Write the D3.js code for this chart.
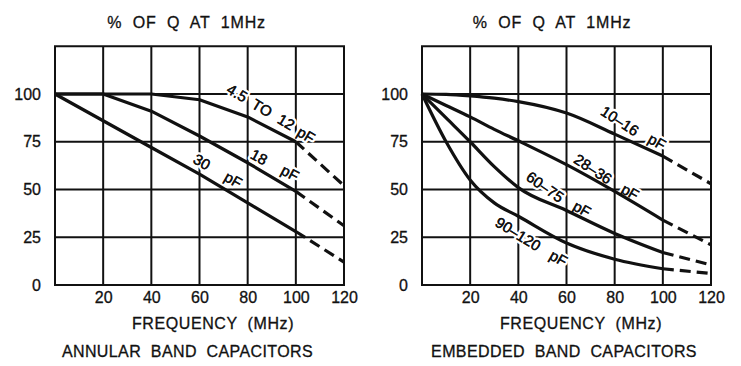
<!DOCTYPE html>
<html><head><meta charset="utf-8">
<script src="https://cdn.jsdelivr.net/npm/d3@7"></script>
<style>
body{margin:0;background:#fff}
text{font-family:"Liberation Sans",Arial,sans-serif;fill:#111}
.t{stroke:#111;stroke-width:0.3px}
</style>
</head><body>
<svg id="c" width="741" height="366"></svg>
<script>
// ---------- data ----------
const freqTicks = [20, 40, 60, 80, 100, 120];
const pctTicks = [0, 25, 50, 75, 100];
const yTitle = "%  OF  Q  AT  1MHz";
const xTitle = "FREQUENCY  (MHz)";

const annularFreq = [0, 20, 40, 60, 80, 100, 120];
const annular_4_5_12 = [100, 100, 100, 97, 88, 75, 52];
const annular_18     = [100, 100, 91, 78, 64, 49, 31];
const annular_30     = [100, 86, 72, 58, 43, 28, 12];
const annularTitle = "ANNULAR  BAND  CAPACITORS";

const embeddedFreq = [0, 10, 20, 30, 40, 60, 80, 100, 120];
const embedded_10_16  = [100, 99.8, 99, 97.8, 96, 90, 79, 67.5, 53];
const embedded_28_36  = [100, 94, 88, 81.5, 75.5, 63, 49, 34, 21];
const embedded_60_75  = [100, 87.5, 75, 62, 51, 39, 27, 17, 10.5];
const embedded_90_120 = [100, 75, 55, 43, 36, 22, 13.5, 8.5, 6];
const embeddedTitle = "EMBEDDED  BAND  CAPACITORS";

// curve labels: words, anchored in data coordinates (MHz, %)
const annularLabels = [
  {t: "4.5", f: 75.6, v: 100.5, a: 31}, {t: "TO", f: 86, v: 92.7, a: 31},
  {t: "12", f: 96, v: 85.3, a: 31}, {t: "pF", f: 104.2, v: 78.5, a: 31},
  {t: "18", f: 84.7, v: 67, a: 28}, {t: "pF", f: 97.6, v: 58.6, a: 28},
  {t: "30", f: 61, v: 64.4, a: 30}, {t: "pF", f: 74, v: 55, a: 30}
];
const embeddedLabels = [
  {t: "10–16", f: 82.2, v: 85.9, a: 33}, {t: "pF", f: 97.6, v: 74.9, a: 30},
  {t: "28–36", f: 71, v: 60.7, a: 33}, {t: "pF", f: 86.4, v: 48.7, a: 30},
  {t: "60–75", f: 51.1, v: 51.3, a: 35}, {t: "pF", f: 66.4, v: 39.8, a: 30},
  {t: "90–120", f: 39.9, v: 26.7, a: 32}, {t: "pF", f: 56.7, v: 14, a: 30}
];

// ---------- drawing ----------
const svg = d3.select("#c");
const W = 289, yBottom = 285, yTop = 46.25;

function panel(x0, freq, seriesList, labels, curve, bottomTitle, off) {
  const x = d3.scaleLinear().domain([0, 120]).range([x0, x0 + W]);
  const y = d3.scaleLinear().domain([0, 125]).range([yBottom, yTop]);
  const g = svg.append("g");
  const cx = x0 + W / 2;

  // grid
  g.selectAll(".vg").data(d3.range(0, 121, 20)).join("line")
    .attr("x1", d => x(d)).attr("x2", d => x(d))
    .attr("y1", y(0)).attr("y2", y(125))
    .attr("stroke", "#111").attr("stroke-width", 2);
  g.selectAll(".hg").data(d3.range(0, 126, 25)).join("line")
    .attr("x1", x(0) - 1).attr("x2", x(120) + 1)
    .attr("y1", d => y(d)).attr("y2", d => y(d))
    .attr("stroke", "#111").attr("stroke-width", 2);

  // axes (labels only)
  const ax = g.append("g").attr("transform", `translate(0,${yBottom})`)
    .call(d3.axisBottom(x).tickValues(freqTicks).tickSize(0).tickPadding(7));
  ax.select(".domain").remove();
  ax.selectAll("text").attr("class", "t").style("font-size", "16px").style("font-family", "Liberation Sans, Arial, sans-serif").attr("fill", "#111");
  const ay = g.append("g").attr("transform", `translate(${x0},0)`)
    .call(d3.axisLeft(y).tickValues(pctTicks).tickSize(0).tickPadding(14));
  ay.select(".domain").remove();
  ay.selectAll("text").attr("class", "t").style("font-size", "16px").style("font-family", "Liberation Sans, Arial, sans-serif").attr("fill", "#111");

  // titles
  g.append("text").attr("class", "t").attr("x", cx + off[0]).attr("y", 28).attr("text-anchor", "middle")
    .style("font-size", "16px").style("white-space", "pre").style("letter-spacing", "0.8px").text(yTitle);
  g.append("text").attr("class", "t").attr("x", cx + off[1]).attr("y", 329).attr("text-anchor", "middle")
    .style("font-size", "16px").style("white-space", "pre").style("letter-spacing", "0.6px").text(xTitle);
  g.append("text").attr("class", "t").attr("x", cx + off[2]).attr("y", 357).attr("text-anchor", "middle")
    .style("font-size", "16px").style("white-space", "pre").style("letter-spacing", "0.4px").text(bottomTitle);

  // labels (white halo knocks out the grid)
  g.selectAll(".lab").data(labels).join("text")
    .attr("transform", d => `translate(${x(d.f)},${y(d.v)}) rotate(${d.a})`)
    .attr("text-anchor", "middle").attr("dy", "0.35em")
    .style("font-size", "15px").style("paint-order", "stroke")
    .attr("stroke", "#fff").attr("stroke-width", 5).attr("stroke-linejoin", "round")
    .text(d => d.t);
  g.selectAll(".lab2").data(labels).join("text")
    .attr("transform", d => `translate(${x(d.f)},${y(d.v)}) rotate(${d.a})`)
    .attr("text-anchor", "middle").attr("dy", "0.35em")
    .style("font-size", "15px").attr("stroke", "#111").attr("stroke-width", 0.3)
    .text(d => d.t);

  // curves
  const line = d3.line().x(d => x(d[0])).y(d => y(d[1])).curve(curve);
  seriesList.forEach(vals => {
    const pts = freq.map((f, i) => [f, vals[i]]);
    g.append("path").datum(pts.filter(p => p[0] <= 100)).attr("d", line)
      .attr("fill", "none").attr("stroke", "#111").attr("stroke-width", 3.2).attr("stroke-linejoin", "round");
    g.append("path").datum(pts.filter(p => p[0] >= 100)).attr("d", line)
      .attr("fill", "none").attr("stroke", "#111").attr("stroke-width", 3.2).attr("stroke-dasharray", "11,6");
  });
}

panel(55, annularFreq, [annular_4_5_12, annular_18, annular_30], annularLabels, d3.curveLinear, annularTitle, [-13, 13.5, -12]);
panel(422, embeddedFreq, [embedded_10_16, embedded_28_36, embedded_60_75, embedded_90_120], embeddedLabels, d3.curveMonotoneX, embeddedTitle, [-14.5, 14.5, -2.5]);
</script>
</body></html>
